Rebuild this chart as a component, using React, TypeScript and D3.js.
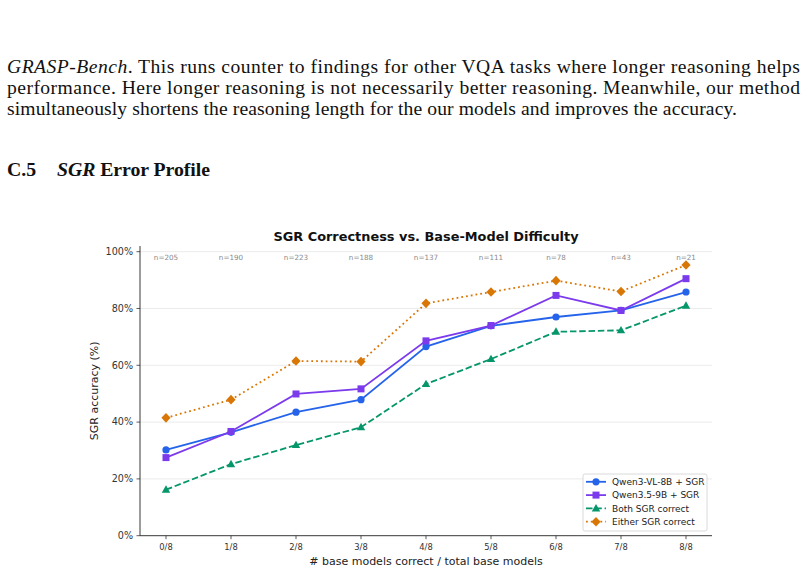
import * as d3 from "d3";

const categories = ["0/8", "1/8", "2/8", "3/8", "4/8", "5/8", "6/8", "7/8", "8/8"];
const counts = [205, 190, 223, 188, 137, 111, 78, 43, 21];

const qwen3vl = [30.2, 36.4, 43.5, 47.9, 66.6, 73.9, 77.0, 79.3, 85.8];
const qwen35 = [27.5, 36.7, 49.9, 51.7, 68.6, 74.0, 84.6, 79.3, 90.5];
const bothCorrect = [16.2, 25.2, 31.9, 38.2, 53.4, 62.2, 71.8, 72.3, 81.0];
const eitherCorrect = [41.5, 47.9, 61.5, 61.3, 81.8, 85.8, 89.8, 86.0, 95.3];

const yTicks = [0, 20, 40, 60, 80, 100];

const series = [
  { name: "Qwen3-VL-8B + SGR", values: qwen3vl, color: "#2563eb", dash: "none", marker: "circle" },
  { name: "Qwen3.5-9B + SGR", values: qwen35, color: "#7c3aed", dash: "none", marker: "square" },
  { name: "Both SGR correct", values: bothCorrect, color: "#059669", dash: "6.5 2.8", marker: "triangle" },
  { name: "Either SGR correct", values: eitherCorrect, color: "#d97706", dash: "1.8 3", marker: "diamond" },
];

const FONT = "'DejaVu Sans', sans-serif";
const SERIF = "'Liberation Serif', 'Times New Roman', serif";

const Marker = ({ kind, x, y, color }: { kind: string; x: number; y: number; color: string }) => {
  if (kind === "circle") return <circle cx={x} cy={y} r={3.6} fill={color} />;
  if (kind === "square") return <rect x={x - 3.5} y={y - 3.5} width={7} height={7} fill={color} />;
  if (kind === "triangle")
    return <path d={`M${x},${y - 4.4}L${x + 4.2},${y + 3}L${x - 4.2},${y + 3}Z`} fill={color} />;
  return <path d={`M${x},${y - 4.8}L${x + 4.6},${y}L${x},${y + 4.8}L${x - 4.6},${y}Z`} fill={color} />;
};

export default function App() {
  const x = d3.scaleLinear().domain([-0.4, 8.4]).range([140, 712]);
  const y = d3.scaleLinear().domain([0, 102]).range([535.7, 246]);

  const line = d3
    .line<number>()
    .x((_, i) => x(i))
    .y((d) => y(d));

  const legendX = 583;
  const legendY = 474;

  return (
    <svg
      width={805}
      height={572}
      viewBox="0 0 805 572"
      style={{ position: "absolute", left: 0, top: 0, background: "#fff" }}
    >
      {/* paper text */}
      <g fontFamily={SERIF} fontSize={19.6} fill="#111">
        <text x={7} y={73} textLength={793} lengthAdjust="spacing">
          <tspan fontStyle="italic">GRASP-Bench</tspan>. This runs counter to findings for other VQA tasks where longer reasoning helps
        </text>
        <text x={7} y={94} textLength={793} lengthAdjust="spacing">
          performance. Here longer reasoning is not necessarily better reasoning. Meanwhile, our method
        </text>
        <text x={7} y={115} textLength={730} lengthAdjust="spacing">
          simultaneously shortens the reasoning length for the our models and improves the accuracy.
        </text>
        <text x={7} y={176} fontWeight="bold" fontSize={19.8}>
          C.5
        </text>
        <text x={57} y={176} fontWeight="bold" fontSize={19.8} textLength={153} lengthAdjust="spacing">
          <tspan fontStyle="italic">SGR</tspan> Error Profile
        </text>
      </g>

      {/* chart */}
      <text x={426} y={240.5} textAnchor="middle" fontFamily={FONT} fontSize={12.9} fontWeight="bold" fill="#111">
        SGR Correctness vs. Base-Model Difficulty
      </text>

      {yTicks.map((t) => (
        <g key={t}>
          {t > 0 && <line x1={140} x2={712} y1={y(t)} y2={y(t)} stroke="#e6e6e6" strokeWidth={0.8} />}
          <line x1={136.5} x2={140} y1={y(t)} y2={y(t)} stroke="#333" strokeWidth={0.8} />
          <text x={133} y={y(t)} dy="0.35em" textAnchor="end" fontFamily={FONT} fontSize={9.6} fill="#333">
            {t}%
          </text>
        </g>
      ))}

      {categories.map((c, i) => (
        <g key={c}>
          <line x1={x(i)} x2={x(i)} y1={535.7} y2={539.2} stroke="#333" strokeWidth={0.8} />
          <text x={x(i)} y={550} textAnchor="middle" fontFamily={FONT} fontSize={8.4} fill="#333">
            {c}
          </text>
          <text x={x(i)} y={260} textAnchor="middle" fontFamily={FONT} fontSize={7.2} fill="#8a8a8a">
            n={counts[i]}
          </text>
        </g>
      ))}

      <line x1={140} x2={140} y1={246} y2={535.7} stroke="#222" strokeWidth={0.9} />
      <line x1={140} x2={712} y1={535.7} y2={535.7} stroke="#222" strokeWidth={0.9} />

      <text x={426} y={565} textAnchor="middle" fontFamily={FONT} fontSize={11} fill="#222">
        # base models correct / total base models
      </text>
      <text
        transform={`translate(98,${y(51)}) rotate(-90)`}
        textAnchor="middle"
        fontFamily={FONT}
        fontSize={11}
        fill="#222"
      >
        SGR accuracy (%)
      </text>

      {series.map((s) => (
        <g key={s.name}>
          <path
            d={line(s.values) ?? ""}
            fill="none"
            stroke={s.color}
            strokeWidth={1.8}
            strokeDasharray={s.dash}
          />
          {s.values.map((v, i) => (
            <Marker key={i} kind={s.marker} x={x(i)} y={y(v)} color={s.color} />
          ))}
        </g>
      ))}

      {/* legend */}
      <rect x={legendX} y={legendY} width={124} height={57} rx={2} fill="#fff" fillOpacity={0.9} stroke="#d0d0d0" strokeWidth={0.8} />
      {series.map((s, i) => {
        const ly = legendY + 7.8 + i * 13.3;
        return (
          <g key={s.name}>
            <line x1={legendX + 3} x2={legendX + 23} y1={ly} y2={ly} stroke={s.color} strokeWidth={1.8} strokeDasharray={s.dash} />
            <Marker kind={s.marker} x={legendX + 13} y={ly} color={s.color} />
            <text x={legendX + 29} y={ly} dy="0.35em" fontFamily={FONT} fontSize={9} fill="#222">
              {s.name}
            </text>
          </g>
        );
      })}
    </svg>
  );
}
